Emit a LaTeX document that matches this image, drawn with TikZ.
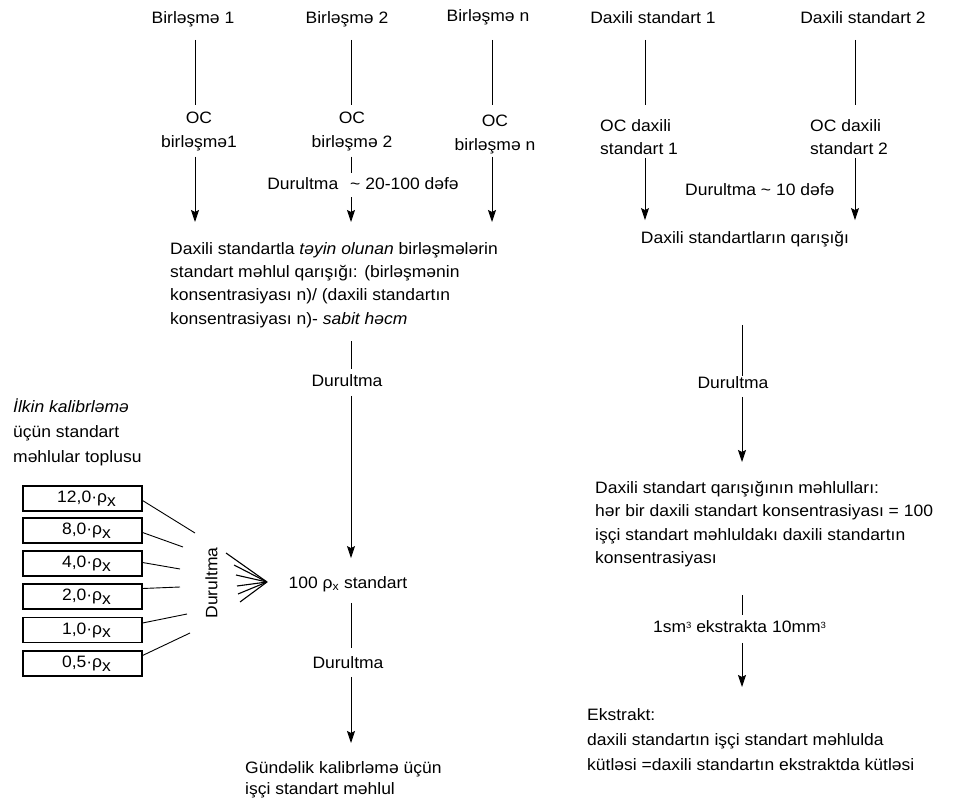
\documentclass[tikz,border=0pt]{standalone}
\usepackage{fontspec}
\setmainfont{Liberation Sans}[FakeStretch=1.06]
\usetikzlibrary{arrows.meta}
\newcommand{\supthree}{\raisebox{3.5pt}{\fontsize{9}{9}\selectfont 3}}
\begin{document}
\begin{tikzpicture}[x=1pt,y=-1pt,
  t/.style={font=\fontsize{16.5}{23.3}\selectfont, inner sep=0pt, text height=12pt, text depth=3.5pt},
  ml/.style={font=\fontsize{16.5}{23.3}\selectfont, inner sep=0pt, align=left},
  ln/.style={line width=0.9pt, draw=black},
  arr/.style={line width=0.9pt, draw=black, -{Stealth[length=12pt,width=8pt,inset=2pt]}},
  sbox/.style={draw, line width=1.1pt, minimum width=119pt, minimum height=25pt, inner sep=0pt,
               font=\fontsize{16.5}{20}\selectfont},
  fan/.style={line width=1.1pt, draw=black}
]
\useasboundingbox (0,0) rectangle (962,805);

% column coordinates
\coordinate (cA) at (195,0);
\coordinate (cB) at (351,0);
\coordinate (cC) at (492,0);
\coordinate (cD) at (645,0);
\coordinate (cE) at (855,0);
\coordinate (cR) at (742,0);

% top row
\node[t] (b1) at (193,19) {Birləşmə 1};
\node[t] (b2) at (347,19) {Birləşmə 2};
\node[t] (bn) at (488,17) {Birləşmə n};
\node[t] (d1) at (653,19) {Daxili standart 1};
\node[t] (d2) at (863,19) {Daxili standart 2};

% OC nodes
\node[ml, align=center, anchor=north] (oc1) at (199,112) {OC\\birləşmə1};
\node[ml, align=center, anchor=north] (oc2) at (352,112) {OC\\birləşmə 2};
\node[ml, align=center, anchor=north] (ocn) at (495,115) {OC\\birləşmə n};
\node[ml, anchor=north west] (ocd1) at (600,119) {OC daxili\\standart 1};
\node[ml, anchor=north west] (ocd2) at (810,119) {OC daxili\\standart 2};

% mixtures
\node[ml, anchor=north west] (mix) at (170,242)
  {Daxili standartla \textit{təyin olunan} birləşmələrin\\standart məhlul qarışığı: (birləşmənin\\konsentrasiyası n)/ (daxili standartın\\konsentrasiyası n)- \textit{sabit həcm}};
\node[t] (mixd) at (745,239) {Daxili standartların qarışığı};

% top connectors
\draw[ln, shorten <=13pt, shorten >=7pt] (b1.south -| cA) -- (oc1.north -| cA);
\draw[ln, shorten <=13pt, shorten >=7pt] (b2.south -| cB) -- (oc2.north -| cB);
\draw[ln, shorten <=15pt, shorten >=10pt] (bn.south -| cC) -- (ocn.north -| cC);
\draw[ln, shorten <=13pt, shorten >=14pt] (d1.south -| cD) -- (ocd1.north -| cD);
\draw[ln, shorten <=13pt, shorten >=14pt] (d2.south -| cE) -- (ocd2.north -| cE);

\draw[arr, shorten <=6pt, shorten >=20pt] (oc1.south -| cA) -- (mix.north -| cA);
\draw[arr, shorten <=6pt, shorten >=20pt] (oc2.south -| cB) -- (mix.north -| cB);
\draw[arr, shorten <=3pt, shorten >=20pt] (ocn.south -| cC) -- (mix.north -| cC);
\draw[arr, shorten <=3pt, shorten >=11pt] (ocd1.south -| cD) -- (mixd.north -| cD);
\draw[arr, shorten <=3pt, shorten >=11pt] (ocd2.south -| cE) -- (mixd.north -| cE);

\node[t, fill=white, inner xsep=1pt, inner ysep=4pt] (dur1) at (363,185)
  {Durultma\hspace{12pt}\textasciitilde{} 20-100 dəfə};
\node[t, anchor=west] (dur2) at (685,191) {Durultma \textasciitilde{} 10 dəfə};

% central chain
\node[t] (drm1) at (347,382) {Durultma};
\node[t] (px) at (348,584) {100 ρ\textsubscript{x} standart};
\node[t] (drm2) at (348,664) {Durultma};
\node[ml, anchor=north west, font=\fontsize{16.5}{21.5}\selectfont] (work) at (245,761)
  {Gündəlik kalibrləmə üçün\\işçi standart məhlul};

\draw[ln, shorten <=13.5pt, shorten >=5pt] (mix.south -| cB) -- (drm1.north -| cB);
\draw[arr, shorten <=6pt, shorten >=18pt] (drm1.south -| cB) -- (px.north -| cB);
\draw[ln, shorten <=11pt, shorten >=8pt] (px.south -| cB) -- (drm2.north -| cB);
\draw[arr, shorten <=5pt, shorten >=18pt] (drm2.south -| cB) -- (work.north -| cB);

% right chain
\node[t] (dr) at (733,384) {Durultma};
\node[ml, anchor=north west, font=\fontsize{16.5}{23.4}\selectfont] (solr) at (595,481)
  {Daxili standart qarışığının məhlulları:\\hər bir daxili standart konsentrasiyası = 100\\işçi standart məhluldakı daxili standartın\\konsentrasiyası};
\node[t] (ek) at (739.5,628) {1sm\supthree{} ekstrakta 10mm\supthree};
\node[ml, anchor=north west, font=\fontsize{16.5}{25}\selectfont] (ekst) at (587,708)
  {Ekstrakt:\\daxili standartın işçi standart məhlulda\\kütləsi =daxili standartın ekstraktda kütləsi};

\draw[ln, shorten <=78pt, shorten >=0pt] (mixd.south -| cR) -- (dr.north -| cR);
\draw[arr, shorten <=5pt, shorten >=19pt] (dr.south -| cR) -- (solr.north -| cR);
\draw[ln, shorten <=28pt, shorten >=5pt] (solr.south -| cR) -- (ek.north -| cR);
\draw[arr, shorten <=7pt, shorten >=21pt] (ek.south -| cR) -- (ekst.north -| cR);

% left block
\node[ml, anchor=north west, font=\fontsize{16.5}{25}\selectfont] (ilk) at (13,399)
  {\textit{İlkin kalibrləmə}\\üçün standart\\məhlular toplusu};

\node[sbox] (s1) at (82.5,498.5) {\hspace{8pt}12,0·ρ\raisebox{-3.5pt}{x}};
\node[sbox] (s2) at (82.5,530.5) {\hspace{8pt}8,0·ρ\raisebox{-3.5pt}{x}};
\node[sbox] (s3) at (82.5,563.5) {\hspace{8pt}4,0·ρ\raisebox{-3.5pt}{x}};
\node[sbox] (s4) at (82.5,596.5) {\hspace{8pt}2,0·ρ\raisebox{-3.5pt}{x}};
\node[sbox] (s5) at (82.5,630) {\hspace{8pt}1,0·ρ\raisebox{-3.5pt}{x}};
\node[sbox] (s6) at (82.5,663.5) {\hspace{8pt}0,5·ρ\raisebox{-3.5pt}{x}};

\coordinate (e1) at (195,533);
\coordinate (e2) at (183,547);
\coordinate (e3) at (180,569);
\coordinate (e4) at (180,587);
\coordinate (e5) at (187,614);
\coordinate (e6) at (190,633);
\draw[ln] ([yshift=-2pt]s1.east) -- (e1);
\draw[ln] ([yshift=-2pt]s2.east) -- (e2);
\draw[ln] ([yshift=1pt]s3.east) -- (e3);
\draw[ln] ([yshift=8pt]s4.east) -- (e4);
\draw[ln] ([yshift=7pt]s5.east) -- (e5);
\draw[ln] ([yshift=8pt]s6.east) -- (e6);

\node[t, rotate=90] (dfan) at (213,583) {Durultma};

\coordinate (tip) at (267,582);
\coordinate (f1) at (226,553);
\coordinate (f2) at (234,565);
\coordinate (f3) at (236,575);
\coordinate (f4) at (237,586);
\coordinate (f5) at (238,594);
\coordinate (f6) at (240,602);
\foreach \f in {f1,f2,f3,f4,f5,f6} \draw[fan] (\f) -- (tip);

\end{tikzpicture}
\end{document}
